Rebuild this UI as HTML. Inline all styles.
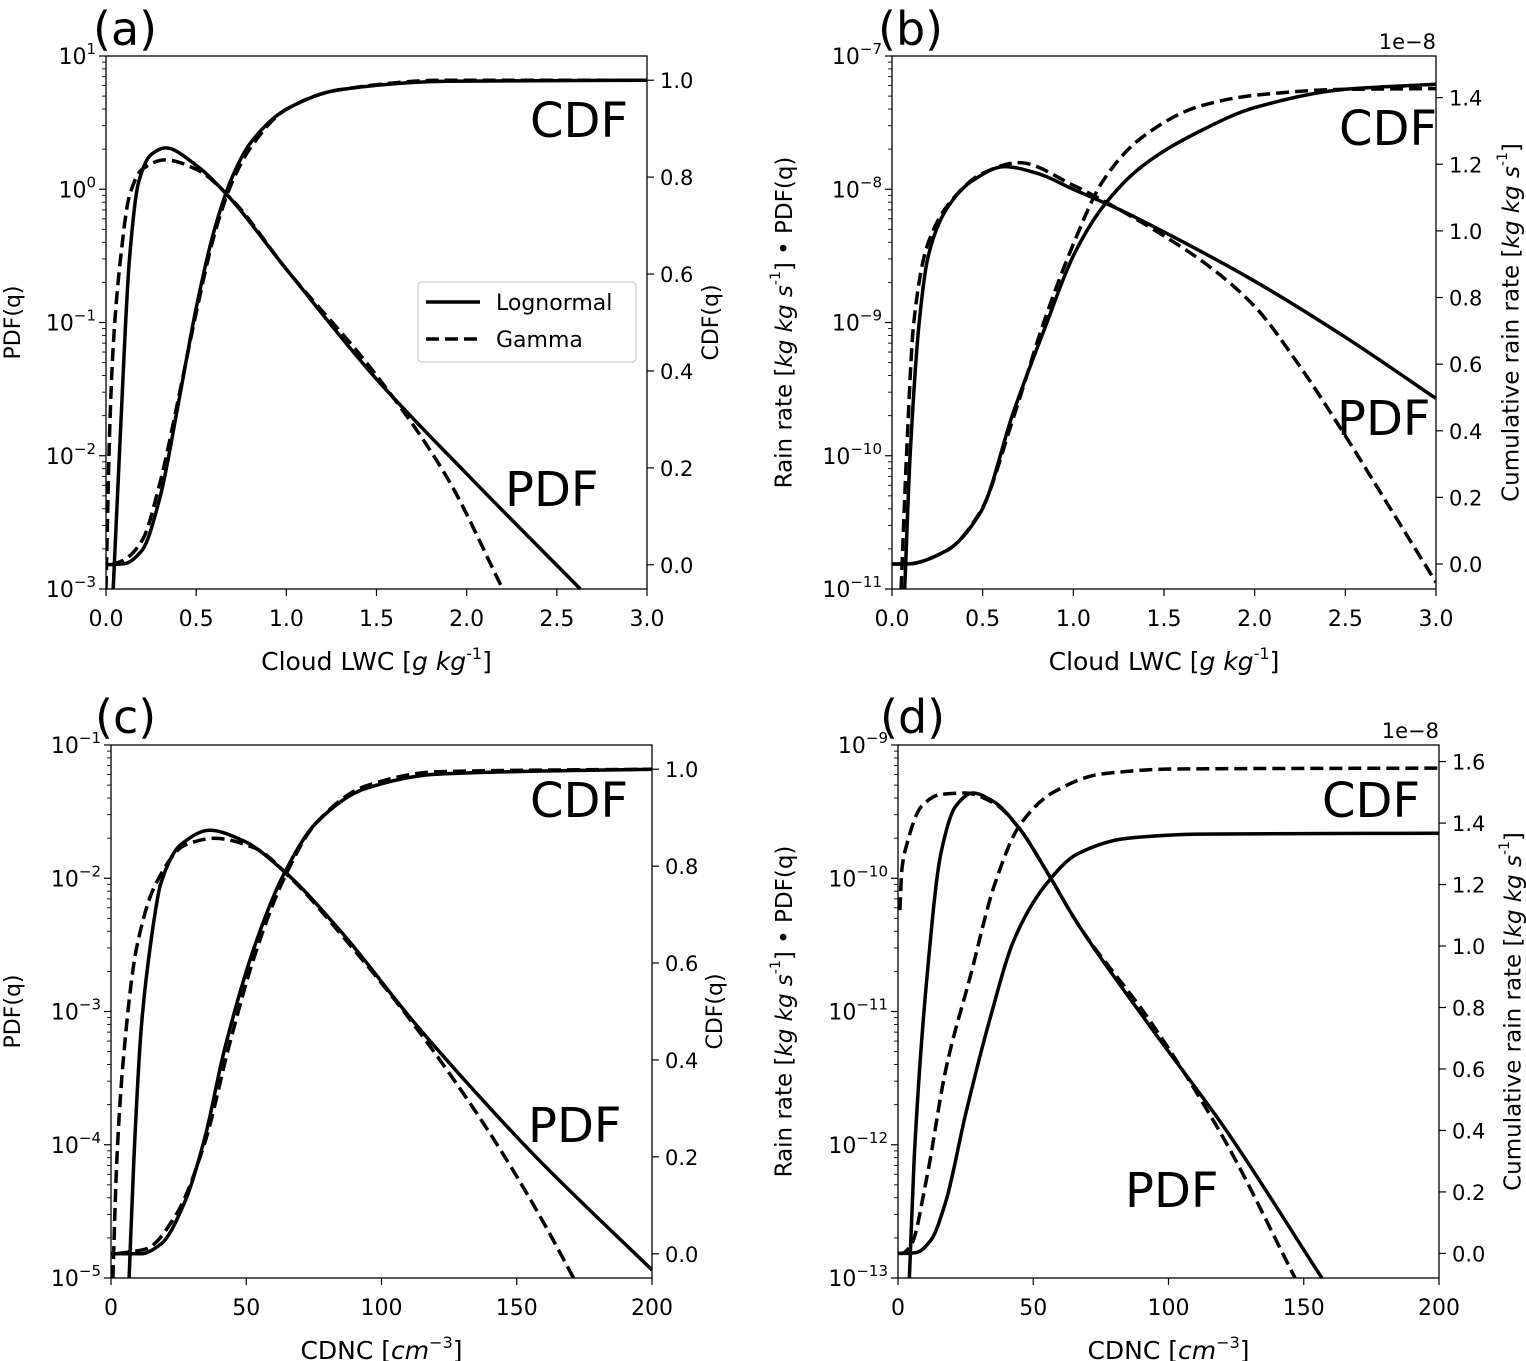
<!DOCTYPE html>
<html><head><meta charset="utf-8">
<style>
html,body{margin:0;padding:0;background:#fff;}
svg{display:block;font-family:"DejaVu Sans","Liberation Sans",sans-serif;}
</style></head>
<body>
<svg id="fig" width="1526" height="1361" viewBox="0 0 1526 1361" xmlns="http://www.w3.org/2000/svg"></svg>
<script>
// ---------- Panel (a): Cloud LWC, PDF(q) & CDF(q)
const aLnPdfX=[0.04,0.08,0.13,0.18,0.25,0.33,0.5,0.65,1.0,1.49,2.01,2.63];
const aLnPdfLog=[-3,-1.83,-0.53,0.05,0.26,0.31,0.18,-0.01,-0.6,-1.41,-2.15,-3];
const aGaPdfX=[0.0,0.02,0.04,0.08,0.13,0.2,0.33,0.5,0.7,1.0,1.49,1.89,2.2];
const aGaPdfLog=[-3,-1.83,-1.18,-0.53,-0.05,0.15,0.22,0.15,-0.08,-0.6,-1.38,-2.16,-3];
const aLnCdfX=[0,0.1,0.2,0.3,0.4,0.5,0.6,0.7,0.8,1.0,1.29,1.89,3.0];
const aLnCdfY=[0,0.002,0.03,0.14,0.33,0.53,0.69,0.8,0.87,0.94,0.98,0.998,1.0];
const aGaCdfX=[0.03,0.1,0.2,0.3,0.4,0.5,0.6,0.7,0.8,1.0,1.29,1.89,3.0];
const aGaCdfY=[0,0.01,0.05,0.17,0.34,0.52,0.68,0.79,0.86,0.94,0.98,1.0,1.0];
// ---------- Panel (b): rain rate
const bLnPdfX=[0.07,0.1,0.15,0.2,0.3,0.45,0.62,0.8,1.0,1.25,1.5,2.0,2.5,3.0];
const bLnPdfLog=[-11,-10,-9,-8.5,-8.15,-7.93,-7.83,-7.88,-8.0,-8.15,-8.32,-8.69,-9.11,-9.57];
const bGaPdfX=[0.05,0.08,0.12,0.2,0.35,0.5,0.7,1.0,1.25,1.5,1.75,2.0,2.25,2.5,2.75,3.0];
const bGaPdfLog=[-11,-10,-9,-8.4,-8.05,-7.88,-7.8,-7.97,-8.15,-8.35,-8.58,-8.88,-9.33,-9.85,-10.4,-10.95];
const bLnCdfX=[0,0.08,0.3,0.49,0.67,0.84,1.0,1.16,1.37,1.7,2.0,2.5,3.0];
const bLnCdfY=[0,0,0.04,0.157,0.457,0.704,0.925,1.07,1.19,1.3,1.37,1.425,1.44];
const bGaCdfX=[0,0.08,0.3,0.49,0.67,0.84,1.0,1.16,1.37,1.7,2.0,2.5,3.0];
const bGaCdfY=[0,0,0.04,0.16,0.44,0.73,0.96,1.147,1.277,1.375,1.407,1.425,1.427];
// ---------- Panel (c): CDNC, PDF & CDF
const cLnPdfX=[6.7,8.5,11.2,14.8,18.4,25.7,36.5,49,63.6,85,112,139,157,200];
const cLnPdfLog=[-5,-4.09,-3.12,-2.47,-2.04,-1.75,-1.64,-1.72,-1.94,-2.4,-3.08,-3.7,-4.09,-4.94];
const cGaPdfX=[0.7,2.2,4.9,9.4,16.6,27.5,38.3,52.8,67,85,112,139,157,175];
const cGaPdfLog=[-5,-4.09,-3.28,-2.53,-2.04,-1.75,-1.7,-1.77,-2.01,-2.42,-3.1,-3.88,-4.48,-5.15];
const cLnCdfX=[0,11,18.4,27.5,34.7,41.9,52.8,63.6,76,94,121,200];
const cLnCdfY=[0,0,0.02,0.11,0.24,0.42,0.63,0.78,0.89,0.96,0.99,1.0];
const cGaCdfX=[2,13,24,34.7,43.7,52.8,63.6,76,94,121,200];
const cGaCdfY=[0,0.01,0.08,0.23,0.43,0.61,0.77,0.89,0.965,0.995,1.0];
// ---------- Panel (d): CDNC rain rate
const dLnPdfX=[4.2,6,10.5,15.9,21.3,27.6,35,45,55,66.4,93.5,120.6,156.7];
const dLnPdfLog=[-13,-12.1,-10.79,-9.81,-9.46,-9.36,-9.42,-9.63,-9.95,-10.34,-11.12,-11.87,-13];
const dGaPdfX=[0.7,1.4,3.2,8.7,15.9,24.9,35.7,45,55,66.4,93.5,120.6,146.8];
const dGaPdfLog=[-10.24,-9.94,-9.75,-9.46,-9.37,-9.36,-9.44,-9.63,-9.95,-10.34,-11.08,-11.96,-13];
const dLnCdfX=[0,3.2,6.9,12.3,17.7,24.9,33.9,42.9,53.8,66.4,84.5,111.6,200];
const dLnCdfY=[0,0,0.003,0.045,0.17,0.45,0.76,1.02,1.19,1.30,1.35,1.364,1.367];
const dGaCdfX=[0,1.4,5,10.5,17.7,26.7,35.7,44.8,57.4,75.5,102.5,200];
const dGaCdfY=[0,0,0.03,0.24,0.6,0.9,1.2,1.39,1.5,1.56,1.576,1.579];

// tick arrays
const lwcTicks=["0.0","0.5","1.0","1.5","2.0","2.5","3.0"];
const cdncTicks=["0","50","100","150","200"];
const cdfTicks=["0.0","0.2","0.4","0.6","0.8","1.0"];
const rainTicksB=["0.0","0.2","0.4","0.6","0.8","1.0","1.2","1.4"];
const rainTicksD=["0.0","0.2","0.4","0.6","0.8","1.0","1.2","1.4","1.6"];

const NS="http://www.w3.org/2000/svg";
const svg=document.getElementById('fig');
function mk(tag,attrs,parent){const e=document.createElementNS(NS,tag);for(const k in attrs)e.setAttribute(k,attrs[k]);(parent||svg).appendChild(e);return e;}

const panels=[
 {id:'a',L:106,R:647,T:56,B:589,x0:0,x1:3,lg0:-3,lg1:1,r0:-0.05,r1:1.05,xt:lwcTicks,rt:cdfTicks,
  lp:[aLnPdfX,aLnPdfLog],gp:[aGaPdfX,aGaPdfLog],lc:[aLnCdfX,aLnCdfY],gc:[aGaCdfX,aGaCdfY],
  xl:'Cloud LWC',xu:['g kg','-1'],yl:'PDF(q)',ylx:14,yr:'CDF(q)',yrx:712,lab:'(a)',labx:93,laby:45,
  cdf:[530,137],pdf:[505,506],sci:false},
 {id:'b',L:892,R:1436,T:56,B:589,x0:0,x1:3,lg0:-11,lg1:-7,r0:-0.075,r1:1.525,xt:lwcTicks,rt:rainTicksB,
  lp:[bLnPdfX,bLnPdfLog],gp:[bGaPdfX,bGaPdfLog],lc:[bLnCdfX,bLnCdfY],gc:[bGaCdfX,bGaCdfY],
  xl:'Cloud LWC',xu:['g kg','-1'],yl:'rain',ylx:785,yr:'cum',yrx:1512,lab:'(b)',labx:878,laby:45,
  cdf:[1339,145],pdf:[1337,435],sci:true},
 {id:'c',L:111,R:652,T:745,B:1278,x0:0,x1:200,lg0:-5,lg1:-1,r0:-0.05,r1:1.05,xt:cdncTicks,rt:cdfTicks,
  lp:[cLnPdfX,cLnPdfLog],gp:[cGaPdfX,cGaPdfLog],lc:[cLnCdfX,cLnCdfY],gc:[cGaCdfX,cGaCdfY],
  xl:'CDNC',xu:['cm','\u22123'],yl:'PDF(q)',ylx:14,yr:'CDF(q)',yrx:716,lab:'(c)',labx:95,laby:733,
  cdf:[530,817],pdf:[528,1142],sci:false},
 {id:'d',L:898,R:1439,T:745,B:1278,x0:0,x1:200,lg0:-13,lg1:-9,r0:-0.08,r1:1.654,xt:cdncTicks,rt:rainTicksD,
  lp:[dLnPdfX,dLnPdfLog],gp:[dGaPdfX,dGaPdfLog],lc:[dLnCdfX,dLnCdfY],gc:[dGaCdfX,dGaCdfY],
  xl:'CDNC',xu:['cm','\u22123'],yl:'rain',ylx:785,yr:'cum',yrx:1514,lab:'(d)',labx:880,laby:733,
  cdf:[1322,817],pdf:[1125,1207],sci:true}
];

function smoothPath(pts){
  const n=pts.length;
  const dx=[],m=[];
  for(let i=0;i<n-1;i++){dx.push(pts[i+1][0]-pts[i][0]);m.push((pts[i+1][1]-pts[i][1])/(dx[i]||1e-6));}
  const t=new Array(n);
  t[0]=m[0];t[n-1]=m[n-2];
  for(let i=1;i<n-1;i++){
    if(m[i-1]*m[i]<=0)t[i]=0;
    else{const w1=2*dx[i]+dx[i-1],w2=dx[i]+2*dx[i-1];t[i]=(w1+w2)/(w1/m[i-1]+w2/m[i]);}
  }
  let d='M'+pts[0][0].toFixed(1)+','+pts[0][1].toFixed(1);
  for(let i=0;i<n-1;i++){
    const h=dx[i]/3;
    d+=' C'+(pts[i][0]+h).toFixed(1)+','+(pts[i][1]+t[i]*h).toFixed(1)+' '+(pts[i+1][0]-h).toFixed(1)+','+(pts[i+1][1]-t[i+1]*h).toFixed(1)+' '+pts[i+1][0].toFixed(1)+','+pts[i+1][1].toFixed(1);
  }
  return d;
}

panels.forEach(p=>{
  const g=mk('g',{});
  
  
  const sx=v=>p.L+(v-p.x0)/(p.x1-p.x0)*(p.R-p.L);
  const sl=v=>p.B-(v-p.lg0)/(p.lg1-p.lg0)*(p.B-p.T);
  const sr=v=>p.B-(v-p.r0)/(p.r1-p.r0)*(p.B-p.T);
  const cp=mk('clipPath',{id:'clip'+p.id},g);
  mk('rect',{x:p.L,y:p.T-2,width:p.R-p.L,height:p.B-p.T+4},cp);
  const curves=[['pdf-lognormal',p.lp,sl,null],['pdf-gamma',p.gp,sl,'13 6'],['cdf-lognormal',p.lc,sr,null],['cdf-gamma',p.gc,sr,'13 6']];
  curves.forEach(c=>{
    const pts=c[1][0].map((x,i)=>[sx(x),c[2](c[1][1][i])]);
    const a={d:smoothPath(pts),fill:'none',stroke:'#000','stroke-width':3.5,'clip-path':'url(#clip'+p.id+')'};
    if(c[3])a['stroke-dasharray']=c[3];
    const e=mk('path',a,g);
    
    
  });
  const fr=mk('rect',{x:p.L,y:p.T,width:p.R-p.L,height:p.B-p.T,fill:'none',stroke:'#000','stroke-width':1.3},g);
  
  
  p.xt.forEach((t,i)=>{
    const v=p.x0+i*(p.x1-p.x0)/(p.xt.length-1);const x=sx(v);
    mk('line',{x1:x,x2:x,y1:p.B,y2:p.B+7,stroke:'#000','stroke-width':1.2},g);
    const tx=mk('text',{x:x,y:p.B+37,'font-size':22,'text-anchor':'middle'},g);
    tx.textContent=t;
    
    
  });
  for(let e=p.lg0;e<=p.lg1;e++){
    const y=sl(e);
    mk('line',{x1:p.L-7,x2:p.L,y1:y,y2:y,stroke:'#000','stroke-width':1.2},g);
    const tx=mk('text',{x:p.L-10,y:y+8,'font-size':22,'text-anchor':'end'},g);
    tx.innerHTML='10<tspan font-size="15" dy="-10">'+(e<0?'\u2212':'')+Math.abs(e)+'</tspan>';
    
    
    if(e<p.lg1)for(let m=2;m<=9;m++){const ym=sl(e+Math.log10(m));mk('line',{x1:p.L-4,x2:p.L,y1:ym,y2:ym,stroke:'#000','stroke-width':0.9},g);}
  }
  p.rt.forEach(t=>{
    const y=sr(parseFloat(t));
    mk('line',{x1:p.R,x2:p.R+7,y1:y,y2:y,stroke:'#000','stroke-width':1.2},g);
    const tx=mk('text',{x:p.R+13,y:y+8,'font-size':21},g);
    tx.textContent=t;
    
    
  });
  const xl=mk('text',{x:(p.L+p.R)/2,y:p.B+81,'font-size':25,'text-anchor':'middle'},g);
  
  
  xl.innerHTML=p.xl+' [<tspan font-style="italic">'+p.xu[0]+'</tspan><tspan font-size="16" dy="-11">'+p.xu[1]+'</tspan><tspan dy="11">]</tspan>';
  const cy=(p.T+p.B)/2;
  const yl=mk('text',{x:p.ylx,y:cy,'font-size':p.yl==='rain'?23:22,'text-anchor':'middle',transform:'rotate(-90 '+p.ylx+' '+cy+')','dominant-baseline':'middle'},g);
  
  
  if(p.yl==='rain') yl.innerHTML='Rain rate [<tspan font-style="italic">kg kg s</tspan><tspan font-size="14" dy="-9">-1</tspan><tspan dy="9">] \u2022 PDF(q)</tspan>';
  else yl.textContent=p.yl;
  const yr=mk('text',{x:p.yrx,y:cy,'font-size':p.yr==='cum'?23:22,'text-anchor':'middle',transform:'rotate(-90 '+p.yrx+' '+cy+')','dominant-baseline':'middle'},g);
  
  
  if(p.yr==='cum') yr.innerHTML='Cumulative rain rate [<tspan font-style="italic">kg kg s</tspan><tspan font-size="14" dy="-9">-1</tspan><tspan dy="9">]</tspan>';
  else yr.textContent=p.yr;
  const lb=mk('text',{x:p.labx,y:p.laby,'font-size':46},g);
  lb.textContent=p.lab;
  
  
  const c1=mk('text',{x:p.cdf[0],y:p.cdf[1],'font-size':48},g);c1.textContent='CDF';
  
  
  const c2=mk('text',{x:p.pdf[0],y:p.pdf[1],'font-size':48},g);c2.textContent='PDF';
  
  
  if(p.sci){
    const s=mk('text',{x:p.R,y:p.T-7,'font-size':21,'text-anchor':'end'},g);s.textContent='1e\u22128';
    
    
  }
});

const lg=mk('g',{});


mk('rect',{x:418,y:282,width:218,height:80,rx:4,fill:'#fff',stroke:'#ccc','stroke-width':1.2},lg);
const l1=mk('line',{x1:426,x2:480,y1:302,y2:302,stroke:'#000','stroke-width':3.5},lg);


const t1=mk('text',{x:496,y:310,'font-size':22},lg);t1.textContent='Lognormal';


const l2=mk('line',{x1:426,x2:480,y1:339,y2:339,stroke:'#000','stroke-width':3.5,'stroke-dasharray':'13 6'},lg);


const t2=mk('text',{x:496,y:347,'font-size':22},lg);t2.textContent='Gamma';


</script>
</body></html>
